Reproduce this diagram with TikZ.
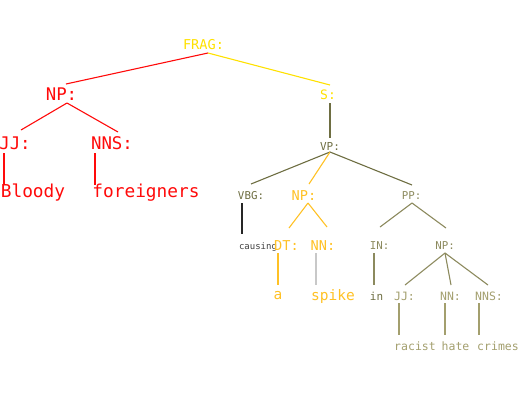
\documentclass[tikz,border=0pt]{standalone}
\usepackage{fontspec}
\newfontfamily\monofnt{DejaVu Sans Mono}
\definecolor{cred}{HTML}{FF0A0A}
\definecolor{cyel}{HTML}{FFE100}
\definecolor{colive}{HTML}{6E6E42}
\definecolor{corange}{HTML}{FFC125}
\definecolor{clolive}{HTML}{8C8A5E}
\definecolor{cpale}{HTML}{A39F6E}
\definecolor{cgray}{HTML}{404040}
\definecolor{clgray}{HTML}{C8C8C8}
\tikzset{
  lab/.style={inner sep=0pt, anchor=center, font=\monofnt},
  sz/.style={font=\monofnt\fontsize{#1}{#1}\selectfont},
  edge/.style={line width=1.1pt},
}
\begin{document}
\begin{tikzpicture}[x=1pt,y=-1pt]
\useasboundingbox (0,0) rectangle (522,400);
% labels
\node[lab,sz=13.6,text=cyel] (frag) at (203.5,45) {FRAG:};
\node[lab,sz=17.4,text=cred] (np1) at (61.5,94) {NP:};
\node[lab,sz=17.4,text=cred] (jj1) at (15,143) {JJ:};
\node[lab,sz=17.4,text=cred] (nns1) at (112,143) {NNS:};
\node[lab,sz=17.8,text=cred] (bloody) at (33,193) {Bloody};
\node[lab,sz=17.8,text=cred] (foreig) at (146,193) {foreigners};
\node[lab,sz=13,text=cyel] (s) at (328,95) {S:};
\node[lab,sz=11,text=colive] (vp) at (330,146) {VP:};
\node[lab,sz=10.8,text=colive] (vbg) at (251,196) {VBG:};
\node[lab,sz=9,text=cgray] (causing) at (258,247) {causing};
\node[lab,sz=13.6,text=corange] (np2) at (304,196) {NP:};
\node[lab,sz=13.6,text=corange] (dt) at (286.5,246) {DT:};
\node[lab,sz=13.6,text=corange] (nn1) at (323,246) {NN:};
\node[lab,sz=14.5,text=corange] (a) at (278,296) {a};
\node[lab,sz=14.5,text=corange] (spike) at (333,296) {spike};
\node[lab,sz=10.8,text=clolive] (pp) at (411.5,196) {PP:};
\node[lab,sz=10.8,text=clolive] (in1) at (379.5,246) {IN:};
\node[lab,sz=11,text=colive] (in2) at (376.5,296) {in};
\node[lab,sz=10.8,text=clolive] (np3) at (445,246) {NP:};
\node[lab,sz=11.5,text=cpale] (jj2) at (404.5,296) {JJ:};
\node[lab,sz=11.5,text=cpale] (nn2) at (450.5,296) {NN:};
\node[lab,sz=11.5,text=cpale] (nns2) at (489,296) {NNS:};
\node[lab,sz=11.5,text=cpale] (racist) at (415,346) {racist};
\node[lab,sz=11.5,text=cpale] (hate) at (455.5,346) {hate};
\node[lab,sz=11.5,text=cpale] (crimes) at (498,346) {crimes};
% edges
\draw[edge,cred] ([shift={(4.5,8)}]frag.center) -- ([shift={(4.5,-10)}]np1.center);
\draw[edge,cyel] ([shift={(4.5,8)}]frag.center) -- ([shift={(2,-10)}]s.center);
\draw[edge,cred] ([shift={(5.5,9)}]np1.center) -- ([shift={(6,-13)}]jj1.center);
\draw[edge,cred] ([shift={(5.5,9)}]np1.center) -- ([shift={(6,-11)}]nns1.center);
\draw[edge,cred] ([shift={(-11,10)}]jj1.center) -- ([shift={(-29,-8)}]bloody.center);
\draw[edge,cred] ([shift={(-17,10)}]nns1.center) -- ([shift={(-51,-8)}]foreig.center);
\draw[edge,colive] ([shift={(2,8)}]s.center) -- ([shift={(0,-8)}]vp.center);
\draw[edge,colive] ([shift={(0,6)}]vp.center) -- ([shift={(0,-12)}]vbg.center);
\draw[edge,corange] ([shift={(0,6)}]vp.center) -- ([shift={(5,-12)}]np2.center);
\draw[edge,colive] ([shift={(0,6)}]vp.center) -- ([shift={(0.5,-11)}]pp.center);
\draw[edge,black!85] ([shift={(-9,7)}]vbg.center) -- ([shift={(-16,-13)}]causing.center);
\draw[edge,corange] ([shift={(4,7)}]np2.center) -- ([shift={(2.5,-18)}]dt.center);
\draw[edge,corange] ([shift={(4,7)}]np2.center) -- ([shift={(4,-19)}]nn1.center);
\draw[edge,corange] ([shift={(-8.5,7)}]dt.center) -- ([shift={(0,-11)}]a.center);
\draw[edge,clgray] ([shift={(-7,7)}]nn1.center) -- ([shift={(-17,-11)}]spike.center);
\draw[edge,clolive] ([shift={(0.5,7)}]pp.center) -- ([shift={(0.5,-19)}]in1.center);
\draw[edge,clolive] ([shift={(0.5,7)}]pp.center) -- ([shift={(1,-18)}]np3.center);
\draw[edge,clolive] ([shift={(-5.5,7)}]in1.center) -- ([shift={(-2.5,-11)}]in2.center);
\draw[edge,clolive] ([shift={(0,7)}]np3.center) -- ([shift={(0.5,-11)}]jj2.center);
\draw[edge,clolive] ([shift={(0,7)}]np3.center) -- ([shift={(0.5,-11)}]nn2.center);
\draw[edge,clolive] ([shift={(0,7)}]np3.center) -- ([shift={(-1,-11)}]nns2.center);
\draw[edge,cpale] ([shift={(-5.5,7)}]jj2.center) -- ([shift={(-16,-11)}]racist.center);
\draw[edge,cpale] ([shift={(-5.5,7)}]nn2.center) -- ([shift={(-10.5,-11)}]hate.center);
\draw[edge,cpale] ([shift={(-10,7)}]nns2.center) -- ([shift={(-19,-11)}]crimes.center);
\end{tikzpicture}
\end{document}
